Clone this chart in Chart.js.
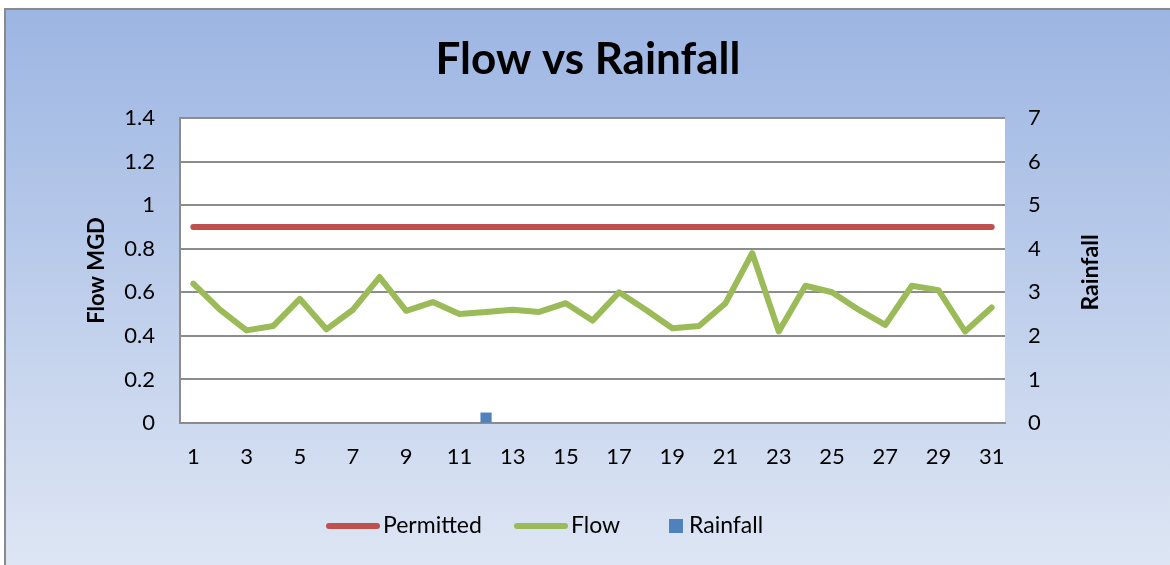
<!DOCTYPE html>
<html>
<head>
<meta charset="utf-8">
<script src="https://cdn.jsdelivr.net/npm/chart.js@4.4.0/dist/chart.umd.min.js"></script>
<style>
  html, body { margin: 0; padding: 0; background: #fff; }
  #wrap { width: 1170px; height: 565px; }
</style>
</head>
<body>
<div id="wrap"><canvas id="chart" width="1170" height="565"></canvas></div>
<script>
// Days of the month
const days = [1, 2, 3, 4, 5, 6, 7, 8, 9, 10, 11, 12, 13, 14, 15, 16,
  17, 18, 19, 20, 21, 22, 23, 24, 25, 26, 27, 28, 29, 30, 31];

// Permitted flow (MGD)
const permitted = [0.9, 0.9, 0.9, 0.9, 0.9, 0.9, 0.9, 0.9, 0.9, 0.9, 0.9,
  0.9, 0.9, 0.9, 0.9, 0.9, 0.9, 0.9, 0.9, 0.9, 0.9, 0.9, 0.9, 0.9, 0.9,
  0.9, 0.9, 0.9, 0.9, 0.9, 0.9];

// Daily flow (MGD)
const flow = [0.64, 0.52, 0.425, 0.445, 0.57, 0.43, 0.52, 0.67, 0.515, 0.555,
  0.5, 0.51, 0.52, 0.51, 0.55, 0.47, 0.6, 0.52, 0.435, 0.445, 0.55, 0.78,
  0.42, 0.63, 0.6, 0.52, 0.45, 0.63, 0.61, 0.42, 0.53];

// Daily rainfall (in)
const rainfall = [0, 0, 0, 0, 0, 0, 0, 0, 0, 0, 0, 0.24, 0, 0, 0, 0,
  0, 0, 0, 0, 0, 0, 0, 0, 0, 0, 0, 0, 0, 0, 0];

const FONT = 'Lato, "Open Sans", sans-serif';
const GRID = '#8c8c8c';

// Background, border and white plot area
const backdrop = {
  id: 'backdrop',
  beforeDraw(chart) {
    const { ctx, chartArea: a } = chart;
    ctx.save();
    ctx.fillStyle = '#ffffff';
    ctx.fillRect(0, 0, chart.width, chart.height);
    const g = ctx.createLinearGradient(0, 9, 0, chart.height);
    g.addColorStop(0, '#9cb5e2');
    g.addColorStop(1, '#dee6f4');
    ctx.fillStyle = g;
    ctx.fillRect(5, 9, chart.width - 5, chart.height - 9);
    ctx.strokeStyle = '#8a8a8a';
    ctx.lineWidth = 2;
    ctx.beginPath();
    ctx.moveTo(5, chart.height);
    ctx.lineTo(5, 9);
    ctx.lineTo(chart.width, 9);
    ctx.stroke();
    ctx.fillStyle = '#ffffff';
    ctx.fillRect(a.left, a.top, a.right - a.left, a.bottom - a.top);
    ctx.restore();
  }
};

// Right axis title (reads bottom to top) and legend
const extras = {
  id: 'extras',
  afterDraw(chart) {
    const { ctx, chartArea: a } = chart;
    ctx.save();
    ctx.fillStyle = '#000';
    ctx.font = 'bold 23px ' + FONT;
    ctx.textAlign = 'center';
    ctx.textBaseline = 'middle';
    ctx.translate(1091, (a.top + a.bottom) / 2 + 2);
    ctx.rotate(-Math.PI / 2);
    ctx.fillText('Rainfall', 0, 0);
    ctx.restore();

    ctx.save();
    const y = 526;
    ctx.font = '23px ' + FONT;
    ctx.textBaseline = 'middle';
    ctx.textAlign = 'left';
    ctx.lineCap = 'round';
    ctx.lineWidth = 6;
    const items = [
      { type: 'line', color: '#c0504d', x: 329, label: 'Permitted' },
      { type: 'line', color: '#9bbb59', x: 517, label: 'Flow' }
    ];
    items.forEach(it => {
      ctx.strokeStyle = it.color;
      ctx.beginPath();
      ctx.moveTo(it.x, y);
      ctx.lineTo(it.x + 48, y);
      ctx.stroke();
      ctx.fillStyle = '#000';
      ctx.fillText(it.label, it.x + 54, y);
    });
    ctx.fillStyle = '#4f81bd';
    ctx.fillRect(669, y - 7, 14, 14);
    ctx.fillStyle = '#000';
    ctx.fillText('Rainfall', 689, y);
    ctx.restore();
  }
};

new Chart(document.getElementById('chart'), {
  type: 'bar',
  data: {
    labels: days,
    datasets: [
      {
        type: 'line',
        label: 'Permitted',
        data: permitted,
        borderColor: '#c0504d',
        backgroundColor: '#c0504d',
        borderWidth: 6,
        pointRadius: 0,
        borderCapStyle: 'round',
        yAxisID: 'y'
      },
      {
        type: 'line',
        label: 'Flow',
        data: flow,
        borderColor: '#9bbb59',
        backgroundColor: '#9bbb59',
        borderWidth: 6,
        pointRadius: 0,
        borderCapStyle: 'round',
        borderJoinStyle: 'round',
        tension: 0,
        yAxisID: 'y'
      },
      {
        type: 'bar',
        label: 'Rainfall',
        data: rainfall,
        backgroundColor: '#4f81bd',
        barPercentage: 0.42,
        categoryPercentage: 1,
        yAxisID: 'y1'
      }
    ]
  },
  options: {
    responsive: false,
    animation: false,
    devicePixelRatio: 1,
    layout: { padding: { left: 6, top: 10, right: 0, bottom: 0 } },
    plugins: {
      legend: { display: false },
      tooltip: { enabled: false },
      title: {
        display: true,
        text: 'Flow vs Rainfall',
        color: '#000',
        font: { family: FONT, size: 44, weight: 'bold' },
        padding: { top: 23, bottom: 32.2 }
      }
    },
    scales: {
      x: {
        offset: true,
        grid: { drawOnChartArea: false, drawTicks: false },
        border: { display: true, color: GRID, width: 2 },
        ticks: {
          autoSkip: false,
          maxRotation: 0,
          color: '#000',
          padding: 21,
          font: { family: FONT, size: 22 },
          callback: (v, i) => (i % 2 === 0 ? days[i] : '')
        },
        afterFit: s => { s.height = 142; }
      },
      y: {
        position: 'left',
        min: 0,
        max: 1.4,
        grid: { color: GRID, lineWidth: 2, drawTicks: false },
        border: { display: true, color: GRID, width: 2 },
        ticks: {
          stepSize: 0.2,
          color: '#000',
          padding: 25,
          font: { family: FONT, size: 22 },
          callback: v => String(Math.round(v * 10) / 10)
        },
        title: {
          display: true,
          text: 'Flow MGD',
          color: '#000',
          font: { family: FONT, size: 22, weight: 'bold' },
          padding: { top: 78, bottom: 0 }
        },
        afterFit: s => { s.width = 174; }
      },
      y1: {
        position: 'right',
        min: 0,
        max: 7,
        grid: { drawOnChartArea: false, drawTicks: false },
        border: { display: false },
        ticks: {
          stepSize: 1,
          color: '#000',
          padding: 23,
          font: { family: FONT, size: 22 }
        },
        afterFit: s => { s.width = 165; }
      }
    }
  },
  plugins: [backdrop, extras]
});
</script>
</body>
</html>
